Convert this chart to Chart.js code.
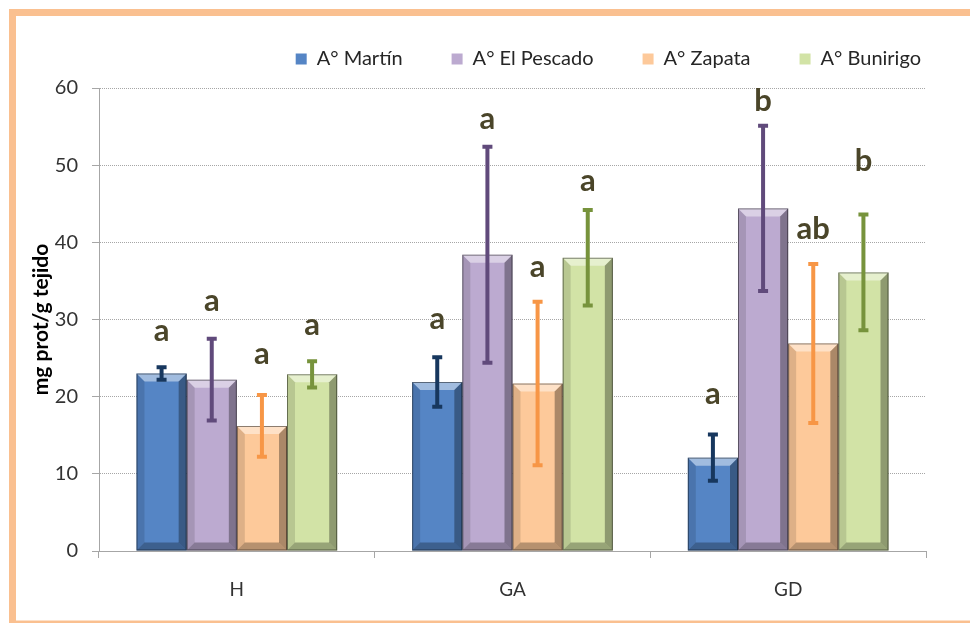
<!DOCTYPE html>
<html>
<head>
<meta charset="utf-8">
<script src="https://cdn.jsdelivr.net/npm/chart.js@4"></script>
<style>
  html, body { margin: 0; padding: 0; background: #fff; }
  #wrap { width: 970px; height: 623px; position: relative; }
</style>
</head>
<body>
<div id="wrap"><canvas id="myChart"></canvas></div>
<script>
const categories = ["H", "GA", "GD"];
const seriesNames = ["A° Martín", "A° El Pescado", "A° Zapata", "A° Bunirigo"];

const martin = [23.0, 21.9, 12.1];
const pescado = [22.2, 38.4, 44.4];
const zapata = [16.2, 21.7, 26.9];
const bunirigo = [22.9, 38.0, 36.1];

// error bars (+/-)
const martinErr = [0.8, 3.2, 3.0];
const pescadoErr = [5.3, 14.0, 10.7];
const zapataErr = [4.0, 10.6, 10.3];
const bunirigoErr = [1.7, 6.2, 7.5];

// significance letters and the level (mg prot/g) of their baseline
const martinLetters = ["a", "a", "a"];
const pescadoLetters = ["a", "a", "b"];
const zapataLetters = ["a", "a", "ab"];
const bunirigoLetters = ["a", "a", "b"];
const martinLetterAt = [27.2, 28.8, 19.1];
const pescadoLetterAt = [31.1, 54.7, 57.0];
const zapataLetterAt = [24.2, 35.5, 40.4];
const bunirigoLetterAt = [28.0, 46.6, 49.2];

const yMin = 0;
const yMax = 60;
const yStep = 10;

const FONT = "Lato, 'Liberation Sans', Arial, sans-serif";

function makeSet(label, values, err, letters, letterAt, fill, errColor) {
  return {
    label: label,
    data: values,
    err: err,
    letters: letters,
    letterAt: letterAt,
    errColor: errColor,
    backgroundColor: fill,
    borderWidth: 0,
    categoryPercentage: 0.728,
    barPercentage: 1,
  };
}

// orange frame behind everything
const framePlugin = {
  id: "frame",
  beforeDraw(chart) {
    const ctx = chart.ctx;
    ctx.save();
    ctx.fillStyle = "#fff";
    ctx.fillRect(0, 0, chart.width, chart.height);
    ctx.strokeStyle = "#FAC090";
    ctx.lineWidth = 7;
    ctx.strokeRect(12.5, 12.5, 1100, 611.5);
    ctx.restore();
  },
};

// keep the legend box tall enough so the plot starts where it should
const legendHeight = {
  id: "legendHeight",
  afterInit(chart) {
    const fit = chart.legend.fit;
    chart.legend.fit = function () {
      fit.call(this);
      this.height = 88;
    };
  },
};

// bevel look, error bars and letters
const extrasPlugin = {
  id: "extras",
  afterDatasetsDraw(chart) {
    const ctx = chart.ctx;
    const yScale = chart.scales.y;
    const b = 8;
    ctx.save();
    chart.data.datasets.forEach((ds, di) => {
      const meta = chart.getDatasetMeta(di);
      meta.data.forEach((bar) => {
        const p = bar.getProps(["x", "y", "base", "width"], true);
        const l = p.x - p.width / 2;
        const r = p.x + p.width / 2;
        const t = p.y;
        const bt = p.base;
        const poly = (pts, color) => {
          ctx.beginPath();
          ctx.moveTo(pts[0][0], pts[0][1]);
          for (let i = 1; i < pts.length; i++) ctx.lineTo(pts[i][0], pts[i][1]);
          ctx.closePath();
          ctx.fillStyle = color;
          ctx.fill();
        };
        poly([[l, t], [r, t], [r - b, t + b], [l + b, t + b]], "rgba(255,255,255,0.45)");
        poly([[r, t], [r, bt], [r - b, bt - b], [r - b, t + b]], "rgba(0,0,0,0.32)");
        poly([[l, t], [l + b, t + b], [l + b, bt - b], [l, bt]], "rgba(0,0,0,0.12)");
        poly([[l, bt], [r, bt], [r - b, bt - b], [l + b, bt - b]], "rgba(0,0,0,0.28)");
        ctx.strokeStyle = "rgba(0,0,0,0.45)";
        ctx.lineWidth = 1;
        ctx.strokeRect(l + 0.5, t + 0.5, p.width - 1, bt - t - 1);
      });
    });

    // error bars
    chart.data.datasets.forEach((ds, di) => {
      const meta = chart.getDatasetMeta(di);
      meta.data.forEach((bar, i) => {
        const x = bar.getProps(["x"], true).x;
        const v = ds.data[i];
        const hi = yScale.getPixelForValue(v + ds.err[i]);
        const lo = yScale.getPixelForValue(v - ds.err[i]);
        ctx.strokeStyle = ds.errColor;
        ctx.lineWidth = 4;
        ctx.beginPath();
        ctx.moveTo(x, hi);
        ctx.lineTo(x, lo);
        ctx.moveTo(x - 5, hi);
        ctx.lineTo(x + 5, hi);
        ctx.moveTo(x - 5, lo);
        ctx.lineTo(x + 5, lo);
        ctx.stroke();
      });
    });

    // letters
    ctx.fillStyle = "#4A4529";
    ctx.font = "bold 31px " + FONT;
    ctx.textAlign = "center";
    ctx.textBaseline = "alphabetic";
    chart.data.datasets.forEach((ds, di) => {
      const meta = chart.getDatasetMeta(di);
      meta.data.forEach((bar, i) => {
        const x = bar.getProps(["x"], true).x;
        ctx.fillText(ds.letters[i], x, yScale.getPixelForValue(ds.letterAt[i]));
      });
    });
    ctx.restore();
  },
};

document.addEventListener("DOMContentLoaded", () => {
  new Chart("myChart", {
    type: "bar",
    data: {
      labels: categories,
      datasets: [
        makeSet(seriesNames[0], martin, martinErr, martinLetters, martinLetterAt, "#5585C5", "#17375E"),
        makeSet(seriesNames[1], pescado, pescadoErr, pescadoLetters, pescadoLetterAt, "#BCAAD0", "#604A7B"),
        makeSet(seriesNames[2], zapata, zapataErr, zapataLetters, zapataLetterAt, "#FDC99A", "#F79646"),
        makeSet(seriesNames[3], bunirigo, bunirigoErr, bunirigoLetters, bunirigoLetterAt, "#D2E3A6", "#77933C"),
      ],
    },
    options: {
      responsive: true,
      maintainAspectRatio: false,
      animation: false,
      layout: { padding: { top: 0, left: 0, right: 0, bottom: 0 } },
      plugins: {
        tooltip: { enabled: false },
        legend: {
          position: "top",
          align: "end",
          labels: {
            boxWidth: 11,
            boxHeight: 11,
            padding: 49,
            color: "#262626",
            font: { family: FONT, size: 20 },
          },
        },
      },
      scales: {
        x: {
          offset: true,
          grid: {
            display: true,
            offset: true,
            drawOnChartArea: false,
            drawTicks: true,
            tickLength: 7,
            color: "#A6A6A6",
          },
          border: { display: true, color: "#A6A6A6", width: 1 },
          ticks: {
            color: "#333",
            padding: 20,
            font: { family: FONT, size: 19 },
          },
          afterFit(scale) {
            scale.height = 72;
          },
        },
        y: {
          min: yMin,
          max: yMax,
          ticks: {
            stepSize: yStep,
            color: "#333",
            padding: 14,
            font: { family: FONT, size: 20 },
          },
          grid: {
            color: "#A6A6A6",
            tickColor: "#A6A6A6",
            tickLength: 7,
          },
          border: { display: true, color: "#A6A6A6", width: 1, dash: [1, 1] },
          title: {
            display: true,
            text: "mg prot/g tejido",
            color: "#000",
            padding: { top: 29, bottom: 0 },
            font: { family: FONT, size: 21, weight: "bold" },
          },
          afterFit(scale) {
            scale.width = 99;
          },
        },
        yRight: {
          position: "right",
          display: true,
          grid: { display: false },
          border: { display: false },
          ticks: { display: false },
          afterFit(scale) {
            scale.width = 44;
          },
        },
      },
    },
    plugins: [framePlugin, legendHeight, extrasPlugin],
  });
});
</script>
</body>
</html>
